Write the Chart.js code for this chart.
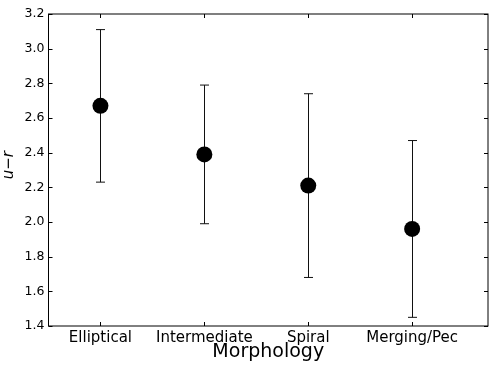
<!DOCTYPE html>
<html>
<head>
<meta charset="utf-8">
<script src="https://cdn.jsdelivr.net/npm/chart.js@4/dist/chart.umd.min.js"></script>
<style>
  html, body { margin: 0; padding: 0; background: #fff; }
  #chart { display: block; }
</style>
</head>
<body>
<canvas id="chart" width="490" height="368"></canvas>
<script>
const categories = ["Elliptical", "Intermediate", "Spiral", "Merging/Pec"];
const colourMeans = [2.67, 2.39, 2.21, 1.96];
const errBelow = [0.44, 0.40, 0.53, 0.51];
const errAbove = [0.44, 0.40, 0.53, 0.51];
const yTickValues = [1.4, 1.6, 1.8, 2.0, 2.2, 2.4, 2.6, 2.8, 3.0, 3.2];

const TICK_LEN = 4;
const CAP_HALF = 4.5;

// error bars with caps, drawn under the markers
const errorBars = {
    id: "errorBars",
    beforeDatasetsDraw(chart) {
        const { ctx, scales: { x, y } } = chart;
        ctx.save();
        ctx.strokeStyle = "#111";
        ctx.lineWidth = 1;
        categories.forEach((c, i) => {
            const px = Math.round(x.getPixelForValue(i)) + 0.5;
            const top = y.getPixelForValue(colourMeans[i] + errAbove[i]);
            const bot = y.getPixelForValue(colourMeans[i] - errBelow[i]);
            ctx.beginPath();
            ctx.moveTo(px, top);
            ctx.lineTo(px, bot);
            ctx.moveTo(px - CAP_HALF, top);
            ctx.lineTo(px + CAP_HALF, top);
            ctx.moveTo(px - CAP_HALF, bot);
            ctx.lineTo(px + CAP_HALF, bot);
            ctx.stroke();
        });
        ctx.restore();
    }
};

// box frame and inward ticks on all four sides
const frame = {
    id: "frame",
    afterDraw(chart) {
        const { ctx, chartArea: a, scales: { x, y } } = chart;
        ctx.save();
        ctx.strokeStyle = "#000";
        ctx.lineWidth = 1;
        ctx.strokeRect(a.left, a.top, a.right - a.left, a.bottom - a.top);
        ctx.beginPath();
        y.ticks.forEach(t => {
            const py = Math.round(y.getPixelForValue(t.value)) + 0.5;
            ctx.moveTo(a.left, py);
            ctx.lineTo(a.left + TICK_LEN, py);
            ctx.moveTo(a.right, py);
            ctx.lineTo(a.right - TICK_LEN, py);
        });
        x.ticks.forEach(t => {
            const px = Math.round(x.getPixelForValue(t.value)) + 0.5;
            ctx.moveTo(px, a.bottom);
            ctx.lineTo(px, a.bottom - TICK_LEN);
            ctx.moveTo(px, a.top);
            ctx.lineTo(px, a.top + TICK_LEN);
        });
        ctx.stroke();
        ctx.restore();
    }
};

const ctx = document.getElementById("chart").getContext("2d");

new Chart(ctx, {
    type: "scatter",
    data: {
        datasets: [{
            data: categories.map((c, i) => ({ x: i, y: colourMeans[i] })),
            backgroundColor: "#000",
            borderWidth: 0,
            pointRadius: 8,
            pointHoverRadius: 8
        }]
    },
    options: {
        responsive: false,
        animation: false,
        devicePixelRatio: 1,
        layout: { autoPadding: false, padding: { top: 14, right: 2, left: 0, bottom: 0 } },
        plugins: {
            legend: { display: false },
            tooltip: { enabled: false }
        },
        scales: {
            x: {
                type: "linear",
                min: -0.5,
                max: 3.73,
                afterBuildTicks: s => { s.ticks = categories.map((c, i) => ({ value: i })); },
                afterFit: s => { s.height = 42; },
                grid: { display: false, drawTicks: false },
                border: { display: false },
                ticks: {
                    padding: 3,
                    color: "#000",
                    maxRotation: 0,
                    autoSkip: false,
                    font: { family: "DejaVu Sans", size: 15 },
                    callback: v => categories[v]
                },
                title: {
                    display: true,
                    text: "Morphology",
                    color: "#000",
                    font: { family: "DejaVu Sans", size: 19 },
                    padding: { top: 0, bottom: 5 }
                }
            },
            y: {
                min: 1.4,
                max: 3.2,
                afterBuildTicks: s => { s.ticks = yTickValues.map(v => ({ value: v })); },
                afterFit: s => { s.width = 48.5; },
                grid: { display: false, drawTicks: false },
                border: { display: false },
                ticks: {
                    padding: 4,
                    color: "#000",
                    font: { family: "DejaVu Sans", size: 12.5 },
                    callback: v => v.toFixed(1)
                },
                title: {
                    display: true,
                    // leading spaces nudge the rotated label up a little
                    text: "  u\u2212r",
                    color: "#000",
                    font: { family: "DejaVu Sans", size: 15, style: "italic" },
                    padding: { top: 0, bottom: 0 }
                }
            }
        }
    },
    plugins: [errorBars, frame]
});
</script>
</body>
</html>
